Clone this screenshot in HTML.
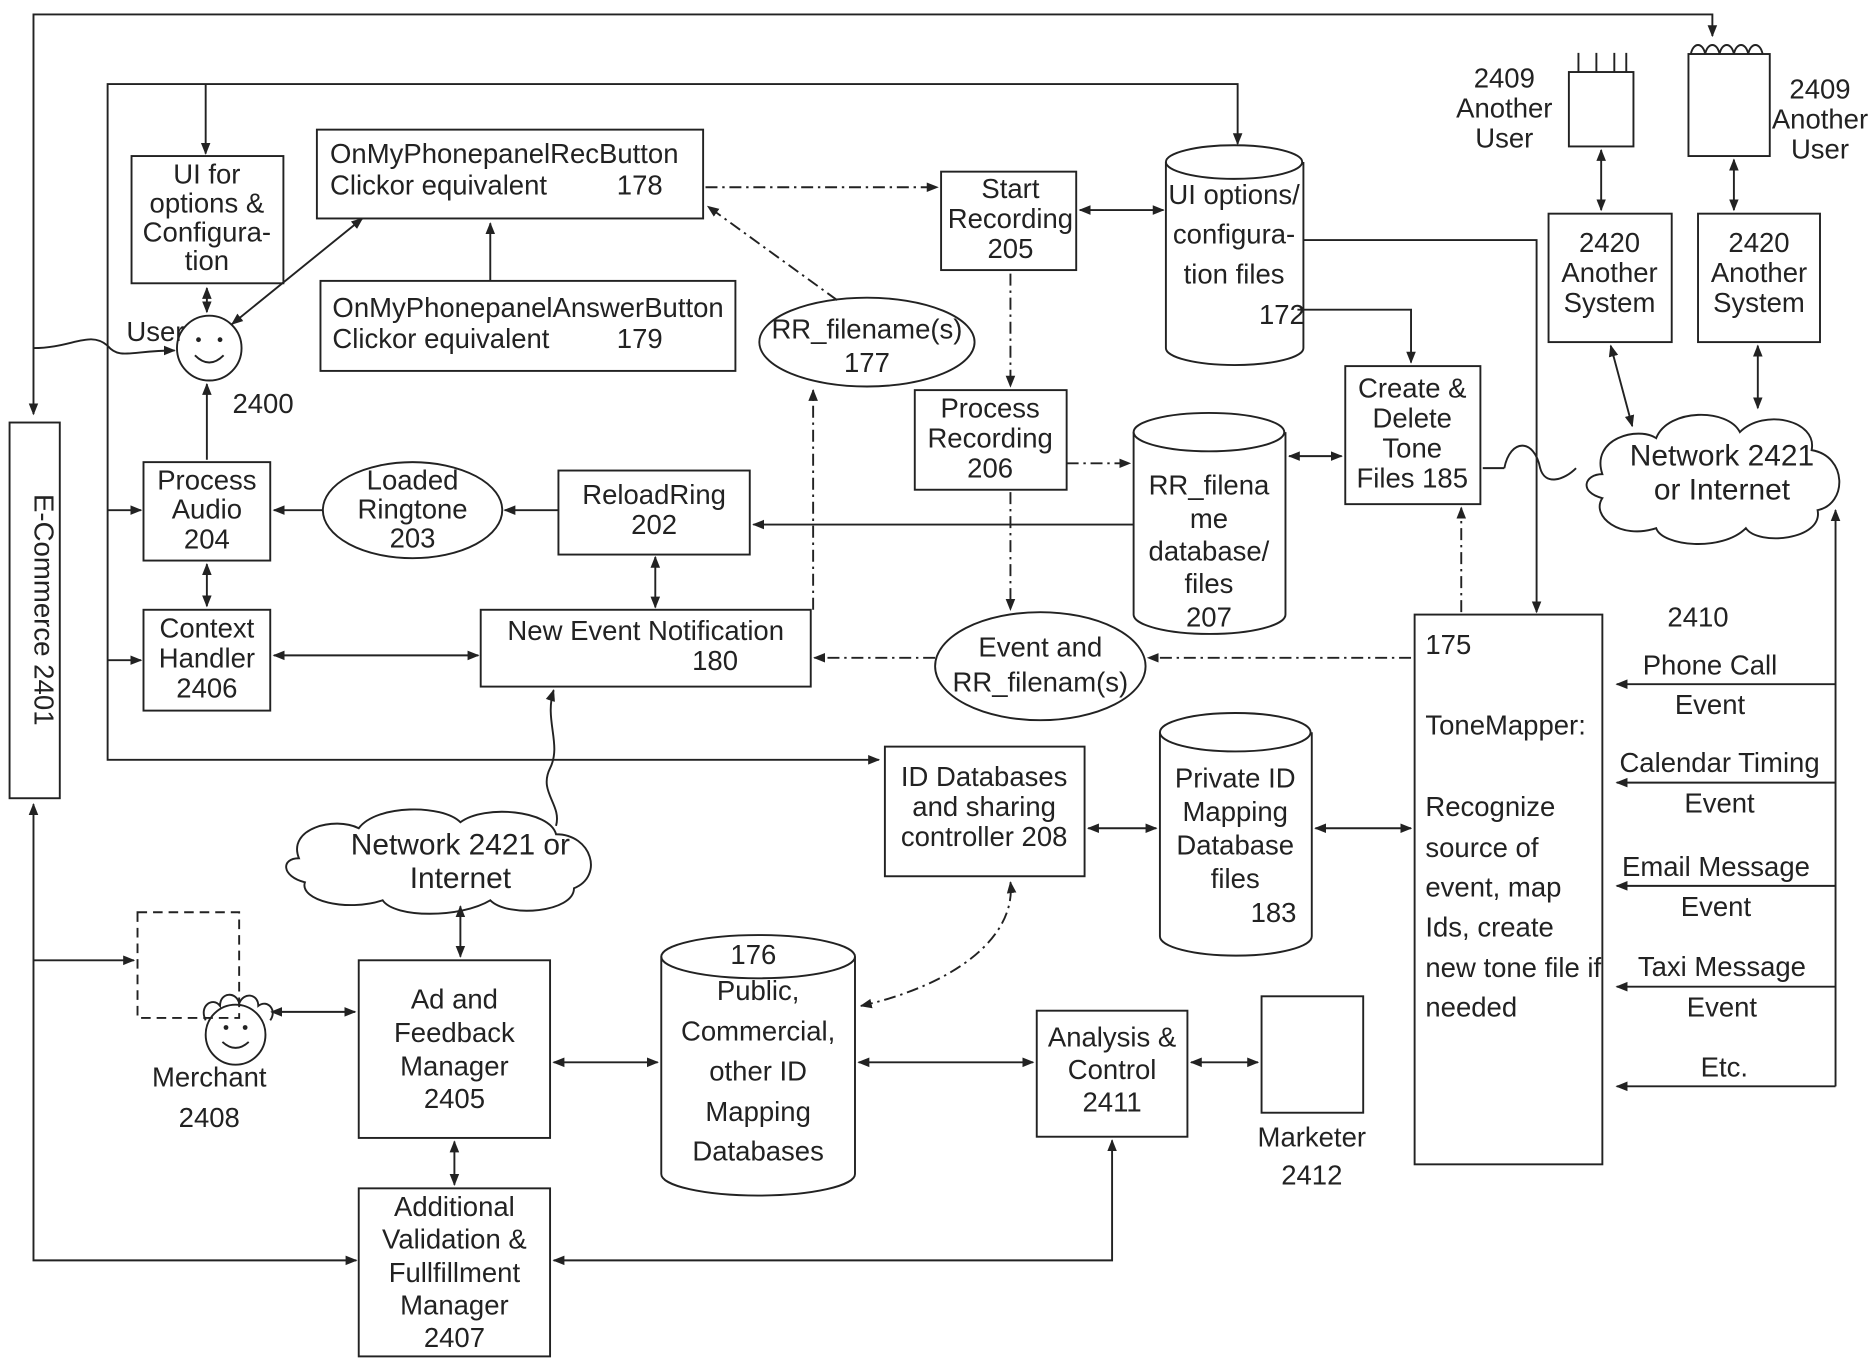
<!DOCTYPE html>
<html><head><meta charset="utf-8"><style>
html,body{margin:0;padding:0;background:#fff}
svg{display:block}
text{font-family:"Liberation Sans",sans-serif;font-size:23px;fill:#222;text-anchor:middle}
.l{text-anchor:start}
</style></head><body>
<svg width="1875" height="1366" viewBox="0 0 1568 1138" preserveAspectRatio="none" xmlns="http://www.w3.org/2000/svg">
<defs>
<marker id="a" markerWidth="10" markerHeight="10" refX="9" refY="5" orient="auto-start-reverse" markerUnits="userSpaceOnUse"><path d="M0,1 L10,5 L0,9 Z" fill="#222"/></marker>
</defs>
<g fill="none" stroke="#222" stroke-width="1.6">
<polyline points="28,345 28,12 1432,12 1432,30" marker-start="url(#a)" marker-end="url(#a)"/>
<polyline points="1035,120 1035,70 90,70 90,633 735,633" marker-start="url(#a)" marker-end="url(#a)"/>
<line x1="172" y1="70" x2="172" y2="128" marker-end="url(#a)"/>
<line x1="90" y1="425" x2="118" y2="425" marker-end="url(#a)"/>
<line x1="90" y1="550" x2="118" y2="550" marker-end="url(#a)"/>
<rect x="8" y="352" width="42" height="313"/>
<polyline points="28,670 28,1050 298,1050" marker-start="url(#a)" marker-end="url(#a)"/>
<line x1="28" y1="800" x2="112" y2="800" marker-end="url(#a)"/>
<path d="M28,290 C60,290 75,275 90,288 C100,300 110,292 146,292" marker-end="url(#a)"/>
<rect x="110" y="130" width="127" height="106"/>
<rect x="265" y="108" width="323" height="74"/>
<rect x="268" y="234" width="347" height="75"/>
<rect x="787" y="143" width="113" height="82"/>
<rect x="765" y="325" width="127" height="83"/>
<rect x="1125" y="305" width="113" height="115"/>
<rect x="120" y="385" width="106" height="82"/>
<rect x="467" y="392" width="160" height="70"/>
<rect x="120" y="508" width="106" height="84"/>
<rect x="402" y="508" width="276" height="64"/>
<rect x="1183" y="512" width="157" height="458"/>
<rect x="1295" y="178" width="103" height="107"/>
<rect x="1420" y="178" width="102" height="107"/>
<rect x="1312" y="60" width="54" height="62"/>
<rect x="1412" y="45" width="68" height="85"/>
<rect x="740" y="622" width="167" height="108"/>
<rect x="300" y="800" width="160" height="148"/>
<rect x="867" y="842" width="126" height="105"/>
<rect x="1055" y="830" width="85" height="97"/>
<rect x="300" y="990" width="160" height="140"/>
<rect x="115" y="760" width="85" height="88" stroke-dasharray="8,5"/>
<path d="M1320,60 V44 M1335,60 V44 M1350,60 V44 M1360,60 V44"/>
<path d="M1414,45 c2,-10 10,-10 12,0 c2,-10 10,-10 12,0 c2,-10 10,-10 12,0 c2,-10 10,-10 12,0 c2,-10 10,-10 12,0"/>
<ellipse cx="725" cy="285" rx="90" ry="37"/>
<ellipse cx="345" cy="425" rx="75" ry="40"/>
<ellipse cx="870" cy="555" rx="88" ry="45"/>
<path d="M975,135 V290 A57,14 0 0 0 1090,290 V135"/><ellipse cx="1032" cy="135" rx="57" ry="14"/>
<path d="M948,360 V512 A63,16 0 0 0 1075,512 V360"/><ellipse cx="1011" cy="360" rx="63" ry="16"/>
<path d="M970,610 V780 A63,16 0 0 0 1097,780 V610"/><ellipse cx="1033" cy="610" rx="63" ry="16"/>
<path d="M553,797 V978 A81,18 0 0 0 715,978 V797"/><ellipse cx="634" cy="797" rx="81" ry="18"/>
<path d="M1340,395 c-10,-30 30,-40 45,-30 c10,-25 60,-25 70,-5 c20,-20 65,-10 60,15 c30,5 30,45 5,50 c5,25 -50,30 -60,15 c-20,20 -70,15 -75,0 c-30,10 -55,-10 -45,-25 c-20,-5 -15,-20 0,-20 z"/>
<path d="M250,715 c-10,-25 30,-35 50,-25 c15,-20 70,-20 85,-5 c20,-15 75,-10 80,10 c30,0 40,35 15,45 c0,20 -55,25 -70,10 c-25,15 -80,15 -90,0 c-30,10 -70,0 -65,-15 c-20,-5 -20,-20 -5,-20 z"/>
<circle cx="175" cy="290" r="27"/>
<path d="M163,296 q12,12 24,0"/>
<circle cx="197" cy="862" r="25"/>
<path d="M186,868 q11,10 22,0"/>
<path d="M172,850 c-6,-12 6,-20 12,-12 c0,-12 14,-12 16,-2 c4,-10 16,-8 16,2 c8,-6 16,4 10,12"/>
<line x1="173" y1="240" x2="173" y2="260" marker-start="url(#a)" marker-end="url(#a)"/>
<line x1="194" y1="270" x2="303" y2="182" marker-start="url(#a)" marker-end="url(#a)"/>
<line x1="410" y1="234" x2="410" y2="186" marker-end="url(#a)"/>
<line x1="173" y1="383" x2="173" y2="320" marker-end="url(#a)"/>
<line x1="173" y1="470" x2="173" y2="505" marker-start="url(#a)" marker-end="url(#a)"/>
<line x1="270" y1="425" x2="229" y2="425" marker-end="url(#a)"/>
<line x1="467" y1="425" x2="422" y2="425" marker-end="url(#a)"/>
<line x1="948" y1="437" x2="630" y2="437" marker-end="url(#a)"/>
<line x1="548" y1="464" x2="548" y2="506" marker-start="url(#a)" marker-end="url(#a)"/>
<line x1="229" y1="546" x2="400" y2="546" marker-start="url(#a)" marker-end="url(#a)"/>
<line x1="903" y1="175" x2="973" y2="175" marker-start="url(#a)" marker-end="url(#a)"/>
<line x1="1078" y1="380" x2="1122" y2="380" marker-start="url(#a)" marker-end="url(#a)"/>
<polyline points="1085,258 1180,258 1180,302" marker-end="url(#a)"/>
<polyline points="1090,200 1285,200 1285,510" marker-end="url(#a)"/>
<g stroke-dasharray="10,4,2,4">
<line x1="590" y1="156" x2="784" y2="156" marker-end="url(#a)"/>
<line x1="700" y1="250" x2="592" y2="172" marker-end="url(#a)"/>
<line x1="680" y1="508" x2="680" y2="325" marker-end="url(#a)"/>
<line x1="845" y1="228" x2="845" y2="322" marker-end="url(#a)"/>
<line x1="892" y1="386" x2="945" y2="386" marker-end="url(#a)"/>
<line x1="845" y1="410" x2="845" y2="508" marker-end="url(#a)"/>
<line x1="782" y1="548" x2="681" y2="548" marker-end="url(#a)"/>
<line x1="1180" y1="548" x2="960" y2="548" marker-end="url(#a)"/>
<line x1="1222" y1="510" x2="1222" y2="423" marker-end="url(#a)"/>
<path d="M720,838 C800,820 850,780 845,735" marker-start="url(#a)" marker-end="url(#a)"/>
</g>
<path d="M463,575 C455,600 470,620 460,640 C450,660 470,670 465,688" marker-start="url(#a)"/>
<line x1="385" y1="755" x2="385" y2="797" marker-start="url(#a)" marker-end="url(#a)"/>
<line x1="1240" y1="390" x2="1258" y2="390"/>
<path d="M1258,390 c5,-25 25,-25 30,0 c4,15 20,10 30,0" />
<line x1="1347" y1="288" x2="1365" y2="355" marker-start="url(#a)" marker-end="url(#a)"/>
<line x1="1470" y1="288" x2="1470" y2="340" marker-start="url(#a)" marker-end="url(#a)"/>
<line x1="1339" y1="125" x2="1339" y2="175" marker-start="url(#a)" marker-end="url(#a)"/>
<line x1="1450" y1="133" x2="1450" y2="175" marker-start="url(#a)" marker-end="url(#a)"/>
<line x1="910" y1="690" x2="967" y2="690" marker-start="url(#a)" marker-end="url(#a)"/>
<line x1="1100" y1="690" x2="1180" y2="690" marker-start="url(#a)" marker-end="url(#a)"/>
<line x1="1535" y1="905" x2="1535" y2="425" marker-end="url(#a)"/>
<line x1="1535" y1="570" x2="1352" y2="570" marker-end="url(#a)"/>
<line x1="1535" y1="652" x2="1352" y2="652" marker-end="url(#a)"/>
<line x1="1535" y1="738" x2="1352" y2="738" marker-end="url(#a)"/>
<line x1="1535" y1="822" x2="1352" y2="822" marker-end="url(#a)"/>
<line x1="1535" y1="905" x2="1352" y2="905" marker-end="url(#a)"/>
<line x1="227" y1="843" x2="297" y2="843" marker-start="url(#a)" marker-end="url(#a)"/>
<line x1="463" y1="885" x2="550" y2="885" marker-start="url(#a)" marker-end="url(#a)"/>
<line x1="718" y1="885" x2="864" y2="885" marker-start="url(#a)" marker-end="url(#a)"/>
<line x1="996" y1="885" x2="1052" y2="885" marker-start="url(#a)" marker-end="url(#a)"/>
<line x1="380" y1="951" x2="380" y2="987" marker-start="url(#a)" marker-end="url(#a)"/>
<polyline points="463,1050 930,1050 930,950" marker-start="url(#a)" marker-end="url(#a)"/>
</g>
<g fill="#222"><circle cx="166" cy="283" r="2"/><circle cx="184" cy="283" r="2"/><circle cx="189" cy="856" r="2"/><circle cx="205" cy="856" r="2"/></g>
<text transform="translate(29,508) rotate(90)">E-Commerce 2401</text>
<text x="173" y="153">UI for</text><text x="173" y="177">options &amp;</text><text x="173" y="201">Configura-</text><text x="173" y="225">tion</text>
<text class="l" x="276" y="136">OnMyPhonepanelRecButton</text>
<text class="l" x="276" y="162">Clickor equivalent</text><text x="535" y="162">178</text>
<text class="l" x="278" y="264">OnMyPhonepanelAnswerButton</text>
<text class="l" x="278" y="290">Clickor equivalent</text><text x="535" y="290">179</text>
<text x="130" y="284">User</text><text x="220" y="344">2400</text>
<text x="725" y="282">RR_filename(s)</text><text x="725" y="310">177</text>
<text x="845" y="165">Start</text><text x="845" y="190">Recording</text><text x="845" y="215">205</text>
<text x="1032" y="170">UI options/</text><text x="1032" y="203">configura-</text><text x="1032" y="236">tion files</text><text x="1072" y="270">172</text>
<text x="828" y="348">Process</text><text x="828" y="373">Recording</text><text x="828" y="398">206</text>
<text x="1011" y="412">RR_filena</text><text x="1011" y="440">me</text><text x="1011" y="467">database/</text><text x="1011" y="494">files</text><text x="1011" y="522">207</text>
<text x="1181" y="331">Create &amp;</text><text x="1181" y="356">Delete</text><text x="1181" y="381">Tone</text><text x="1181" y="406">Files 185</text>
<text x="173" y="408">Process</text><text x="173" y="432">Audio</text><text x="173" y="457">204</text>
<text x="345" y="408">Loaded</text><text x="345" y="432">Ringtone</text><text x="345" y="456">203</text>
<text x="547" y="420">ReloadRing</text><text x="547" y="445">202</text>
<text x="173" y="531">Context</text><text x="173" y="556">Handler</text><text x="173" y="581">2406</text>
<text x="540" y="533">New Event Notification</text><text x="598" y="558">180</text>
<text x="870" y="547">Event and</text><text x="870" y="576">RR_filenam(s)</text>
<text class="l" x="1192" y="545">175</text>
<text class="l" x="1192" y="612">ToneMapper:</text>
<text class="l" x="1192" y="680">Recognize</text><text class="l" x="1192" y="714">source of</text><text class="l" x="1192" y="747">event, map</text><text class="l" x="1192" y="780">Ids, create</text><text class="l" x="1192" y="814">new tone file if</text><text class="l" x="1192" y="847">needed</text>
<text x="1420" y="522">2410</text>
<text x="1430" y="562">Phone Call</text><text x="1430" y="595">Event</text>
<text x="1438" y="643">Calendar Timing</text><text x="1438" y="677">Event</text>
<text x="1435" y="730">Email Message</text><text x="1435" y="763">Event</text>
<text x="1440" y="813">Taxi Message</text><text x="1440" y="847">Event</text>
<text x="1442" y="897">Etc.</text>
<text x="1440" y="388" style="font-size:25px">Network 2421</text><text x="1440" y="416" style="font-size:25px">or Internet</text>
<text x="1346" y="210">2420</text><text x="1346" y="235">Another</text><text x="1346" y="260">System</text>
<text x="1471" y="210">2420</text><text x="1471" y="235">Another</text><text x="1471" y="260">System</text>
<text x="1258" y="73">2409</text><text x="1258" y="98">Another</text><text x="1258" y="123">User</text>
<text x="1522" y="82">2409</text><text x="1522" y="107">Another</text><text x="1522" y="132">User</text>
<text x="823" y="655">ID Databases</text><text x="823" y="680">and sharing</text><text x="823" y="705">controller 208</text>
<text x="1033" y="656">Private ID</text><text x="1033" y="684">Mapping</text><text x="1033" y="712">Database</text><text x="1033" y="740">files</text><text x="1065" y="768">183</text>
<text x="385" y="712" style="font-size:25px">Network 2421 or</text><text x="385" y="740" style="font-size:25px">Internet</text>
<text x="175" y="905">Merchant</text><text x="175" y="939">2408</text>
<text x="380" y="840">Ad and</text><text x="380" y="868">Feedback</text><text x="380" y="896">Manager</text><text x="380" y="923">2405</text>
<text x="630" y="803">176</text><text x="634" y="833">Public,</text><text x="634" y="867">Commercial,</text><text x="634" y="900">other ID</text><text x="634" y="934">Mapping</text><text x="634" y="967">Databases</text>
<text x="930" y="872">Analysis &amp;</text><text x="930" y="899">Control</text><text x="930" y="926">2411</text>
<text x="1097" y="955">Marketer</text><text x="1097" y="987">2412</text>
<text x="380" y="1013">Additional</text><text x="380" y="1040">Validation &amp;</text><text x="380" y="1068">Fullfillment</text><text x="380" y="1095">Manager</text><text x="380" y="1122">2407</text>
</svg>
</body></html>
